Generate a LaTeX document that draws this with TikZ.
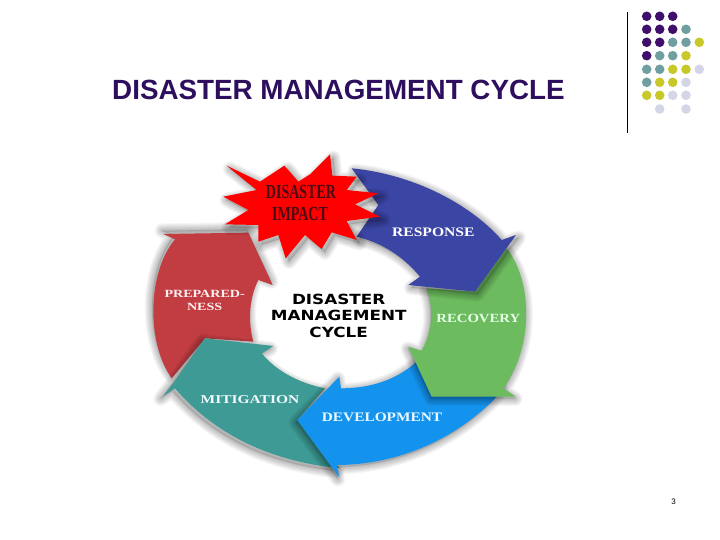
\documentclass[tikz,border=0pt]{standalone}
\usepackage{fontspec}
\setmainfont{Liberation Sans}
\newfontfamily\serifb[Scale=1]{Liberation Serif}
\newfontfamily\dejab{DejaVu Sans}
\definecolor{titlec}{HTML}{2E0F5E}
\definecolor{dotp}{HTML}{3F0F6B}
\definecolor{dott}{HTML}{6F9FA0}
\definecolor{doty}{HTML}{C8C82A}
\definecolor{dotl}{HTML}{D5D5E8}
\definecolor{cresp}{HTML}{3B45A3}
\definecolor{cgreen}{HTML}{6CBB5F}
\definecolor{cblue}{HTML}{1493EE}
\definecolor{cteal}{HTML}{3D9A94}
\definecolor{cred}{HTML}{C13D42}
\definecolor{stardark}{HTML}{4A0A14}
\tikzset{
  dotp/.style={circle,fill=dotp,inner sep=0pt,minimum size=9.6pt},
  dott/.style={circle,fill=dott,inner sep=0pt,minimum size=9.6pt},
  doty/.style={circle,fill=doty,inner sep=0pt,minimum size=9.6pt},
  dotl/.style={circle,fill=dotl,inner sep=0pt,minimum size=9.6pt},
  armlabel/.style={inner sep=0pt,align=center,font=\serifb\bfseries},
  corelabel/.style={inner sep=0pt,font=\dejab\bfseries\fontsize{14}{15}\selectfont,text=black},
  starlabel/.style={inner sep=0pt,text=stardark,font=\serifb\bfseries\fontsize{20}{21}\selectfont},
  glow/.style={draw=black,line join=round,draw opacity=0.035,line width=#1},
}
\newcommand{\glowed}[3]{%
  \begin{scope}[shift={(#2)}]
  \foreach \w in {44,38,32,26,20,14,8,3}{\draw[glow=\w*0.3333pt] #1;}
  \fill[black,opacity=0.12] #1;
  \end{scope}
  \fill[#3] #1;
}
\begin{document}
\begin{tikzpicture}[x=1pt,y=-1pt]
\useasboundingbox (0,0) rectangle (720,540);
\fill[white] (0,0) rectangle (720,540);
\node[anchor=west,inner sep=0pt,text=titlec,font=\bfseries\fontsize{27.8}{29}\selectfont] (title) at (112,89.5) {DISASTER MANAGEMENT CYCLE};
\coordinate (ruleA) at (627.5,12);
\coordinate (ruleB) at (627.5,133);
\draw[line width=1pt,black] (ruleA) -- (ruleB);
% dots
\foreach \c/\x/\y in {
 dotp/646.7/16.3,dotp/659.7/16.3,dotp/672.7/16.3,
 dotp/646.7/29.3,dotp/659.7/29.3,dotp/672.7/29.3,dott/686/29.3,
 dotp/646.7/42.3,dotp/659.7/42.3,dott/672.7/42.3,dott/686/42.3,doty/699.3/42.3,
 dotp/646.7/55.7,dott/659.7/55.7,dott/672.7/55.7,doty/686/55.7,
 dott/646.7/69.3,dott/659.7/69.3,doty/672.7/69.3,doty/686/69.3,dotl/699.3/69.3,
 dott/646.7/82.3,doty/659.7/82.3,doty/672.7/82.3,dotl/686/82.3,
 doty/646.7/95.3,doty/659.7/95.3,dotl/672.7/95.3,dotl/686/95.3,
 dotl/659.7/109,dotl/686/109}{
  \node[\c] at (\x,\y) {};
}
% cycle (coordinates: 3x the reference pixels, from 140,140)
\begin{scope}[x=0.33333pt,y=-0.33333pt,shift={(420,420)}]
\def\pRed{(70,282) -- (325,278) -- (398,435) -- (355,420) .. controls (325,480) and (325,550) .. (340,605) -- (195,595) -- (95,715) .. controls (20,610) and (20,400) .. (105,298) -- cycle}
\def\pTeal{(70,768) -- (105,722) -- (195,595) -- (400,618) -- (365,640) .. controls (410,695) and (480,730) .. (555,745) -- (472,840) -- (590,975) -- (600,985) .. controls (400,965) and (230,890) .. (105,745) -- cycle}
\def\pBlue{(830,665) .. controls (770,720) and (690,745) .. (603,745) -- (598,710) -- (472,840) -- (598,1012) -- (590,975) .. controls (770,975) and (940,900) .. (1060,780) -- (1090,745) -- (875,740) -- cycle}
\def\pGreen{(1100,325) .. controls (1175,420) and (1185,610) .. (1090,745) -- (1128,770) -- (875,770) -- (805,620) -- (845,632) .. controls (880,570) and (880,500) .. (860,445) -- (1005,455) -- cycle}
\def\pResp{(635,85) .. controls (800,100) and (980,180) .. (1085,300) -- (1128,285) -- (1005,455) -- (805,435) -- (840,410) .. controls (790,350) and (730,310) .. (650,290) -- (715,195) -- cycle}
\glowed{\pRed}{-4,-10}{cred}
\glowed{\pTeal}{-8,8}{cteal}
\glowed{\pBlue}{-4,6}{cblue}
\glowed{\pGreen}{-2,6}{cgreen}
\glowed{\pResp}{8,8}{cresp}
\node[armlabel,text=red!6!white] (prep) at (194,480) {\scalebox{1.28}[1]{\fontsize{11}{12}\selectfont PREPARED-}\\[1pt]\scalebox{1.28}[1]{\fontsize{11}{12}\selectfont NESS}};
\node[armlabel,text=white] (resp) at (880,277) {\scalebox{1.2}[1]{\fontsize{13}{14}\selectfont RESPONSE}};
\node[armlabel,text=green!10!white] (reco) at (1015,534) {\scalebox{1.18}[1]{\fontsize{12.5}{14}\selectfont RECOVERY}};
\node[armlabel,text=cyan!8!white] (deve) at (726,832) {\scalebox{1.18}[1]{\fontsize{13}{14}\selectfont DEVELOPMENT}};
\node[armlabel,text=cyan!6!white] (miti) at (330,778) {\scalebox{1.29}[1]{\fontsize{12}{14}\selectfont MITIGATION}};
\node[corelabel] (c1) at (596,478) {\scalebox{1.2}[1]{DISASTER}};
\node[corelabel] (c2) at (596,527) {\scalebox{1.2}[1]{MANAGEMENT}};
\node[corelabel] (c3) at (596,577) {\scalebox{1.2}[1]{CYCLE}};
\end{scope}
% star (coordinates: 3x the reference pixels, from 215,145)
\begin{scope}[x=0.33333pt,y=-0.33333pt,shift={(645,435)}]
\def\pStar{(35,62) -- (135,110) -- (208,62) -- (250,110) -- (285,88) -- (345,28) -- (352,92) -- (425,95) -- (395,135) -- (490,145) -- (420,178) -- (495,215) -- (395,228) -- (425,285) -- (350,262) -- (320,312) -- (270,270) -- (212,340) -- (190,270) -- (130,290) -- (130,240) -- (30,238) -- (100,195) -- (25,155) -- (125,135) -- cycle}
\glowed{\pStar}{10,10}{red}
\node[starlabel] (s1) at (258,142) {\scalebox{0.7}[1]{DISASTER}};
\node[starlabel] (s2) at (255,207) {\scalebox{0.7}[1]{IMPACT}};
\end{scope}
\node[inner sep=0pt,font=\fontsize{8}{9}\selectfont,text=black] (pnum) at (673.5,501.5) {3};
\end{tikzpicture}
\end{document}
